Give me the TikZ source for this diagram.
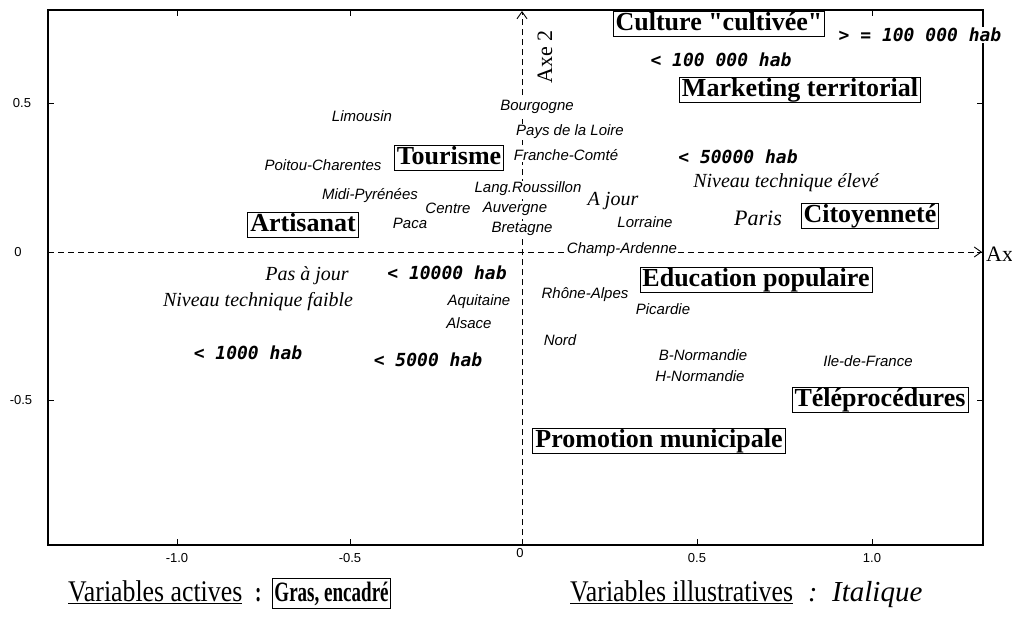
\documentclass[tikz,border=0pt]{standalone}
\usepackage{fontspec}
\setmainfont{Liberation Serif}
\newfontfamily\boxfam{Liberation Serif}[Ligatures=TeXOff]
\newfontfamily\sansf{Liberation Sans}
\newfontfamily\monof{DejaVu Sans Mono}
\newfontfamily\legf[FakeStretch=0.86]{Liberation Serif}
\newfontfamily\legbf[FakeStretch=0.68]{Liberation Serif}
\usetikzlibrary{arrows.meta}
\tikzset{
  active/.style={draw, fill=white, line width=0.9pt, inner xsep=2.5pt, inner ysep=1pt,
    text height=18pt, text depth=5.5pt, font=\boxfam\fontsize{26}{26}\selectfont\bfseries},
  region/.style={fill=white, inner sep=1pt, font=\sansf\itshape\fontsize{15}{15}\selectfont},
  hab/.style={fill=white, inner sep=1pt, font=\monof\bfseries\itshape\fontsize{18}{18}\selectfont},
  hand/.style={fill=white, inner sep=1pt, font=\itshape\fontsize{20}{20}\selectfont},
  ticklab/.style={font=\sansf\fontsize{13}{13}\selectfont, inner sep=0pt},
  axisline/.style={dash pattern=on 6pt off 4pt, line width=0.8pt},
  frameline/.style={line width=1.2pt},
  ticktick/.style={line width=1pt},
  tipbarb/.style={-{Straight Barb[length=7pt,width=10pt,line width=0.9pt]}},
}
\begin{document}
\begin{tikzpicture}[x=1pt,y=-1pt]
\useasboundingbox (0,0) rectangle (1012,621);
\fill[white] (0,0) rectangle (1012,621);
% frame
\draw[frameline] (48,10) rectangle (983,545);
% ticks
\foreach \xx in {177,350,697,872}{
  \draw[ticktick] (\xx,545) -- (\xx,539);
  \draw[ticktick] (\xx,10) -- (\xx,16);
}
\foreach \yy in {103,252,400}{
  \draw[ticktick] (48,\yy) -- (54,\yy);
  \draw[ticktick] (983,\yy) -- (977,\yy);
}
% tick labels
\node[ticklab] (tx1) at (177,558) {-1.0};
\node[ticklab] (tx2) at (350,558) {-0.5};
\node[ticklab] (tx3) at (520,553) {0};
\node[ticklab] (tx4) at (697,558) {0.5};
\node[ticklab] (tx5) at (872,558) {1.0};
\node[ticklab] (ty1) at (22,103) {0.5};
\node[ticklab] (ty2) at (18,252) {0};
\node[ticklab] (ty3) at (21,400) {-0.5};
% axes
\coordinate (xl) at (48,252);
\coordinate (xr) at (982,252);
\coordinate (yb) at (522,545);
\coordinate (yt) at (522,11);
\draw[axisline, tipbarb] (xl) -- (xr);
\draw[axisline, tipbarb] (yb) -- (yt);
\node[font=\fontsize{22}{22}\selectfont, anchor=west, inner sep=0pt] (ax1) at (986,254) {Ax};
\node[font=\fontsize{22}{22}\selectfont, rotate=90, inner sep=0pt] (ax2) at (545,57) {Axe 2};
% illustrative labels
\node[region] (bourg) at (537,107) {Bourgogne};
\node[region] (limo) at (362,116) {Limousin};
\node[region] (pays) at (570,132) {Pays de la Loire};
\node[region] (franche) at (566,155) {Franche-Comté};
\node[region] (poitou) at (323,165) {Poitou-Charentes};
\node[region] (lang) at (528,189) {Lang.Roussillon};
\node[region] (midi) at (370,196) {Midi-Pyrénées};
\node[region] (centre) at (448,208) {Centre};
\node[region] (auv) at (515,209) {Auvergne};
\node[region] (paca) at (410,223) {Paca};
\node[region] (lorr) at (645,222) {Lorraine};
\node[region] (bret) at (522,229) {Bretagne};
\node[region] (champ) at (622,250) {Champ-Ardenne};
\node[region] (rhone) at (585,295) {Rhône-Alpes};
\node[region] (aquit) at (479,302) {Aquitaine};
\node[region] (pic) at (663,309) {Picardie};
\node[region] (alsace) at (469,323) {Alsace};
\node[region] (nord) at (560,340) {Nord};
\node[region] (bnorm) at (703,355) {B-Normandie};
\node[region] (idf) at (868,361) {Ile-de-France};
\node[region] (hnorm) at (700,376) {H-Normandie};
% hand-style labels
\node[hand] (nivhaut) at (786,183) {Niveau technique élevé};
\node[hand] (ajour) at (613,201) {A jour};
\node[hand, font=\itshape\fontsize{22}{22}\selectfont] (paris) at (758,218) {Paris};
\node[hand] (pasajour) at (307,276) {Pas à jour};
\node[hand] (nivbas) at (258,302) {Niveau technique faible};
% population labels
\node[hab] (h100p) at (920,35) {> = 100 000 hab};
\node[hab] (h100) at (721,60) {< 100 000 hab};
\node[hab] (h50) at (738,157) {< 50000 hab};
\node[hab] (h10) at (447,273) {< 10000 hab};
\node[hab] (h1) at (248,353) {< 1000 hab};
\node[hab] (h5) at (428,360) {< 5000 hab};
% active variables
\node[active] (cult) at (719,24) {Culture "cultivée"};
\node[active] (mkt) at (800,90) {Marketing territorial};
\node[active] (tour) at (449,158) {Tourisme};
\node[active] (cit) at (870,216) {Citoyenneté};
\node[active] (art) at (303,225) {Artisanat};
\node[active] (edu) at (756,280) {Education populaire};
\node[active] (tele) at (880,400) {Téléprocédures};
\node[active] (promo) at (659,441) {Promotion municipale};
% legend
\node[anchor=base west, inner sep=0pt, font=\legf\fontsize{30}{30}\selectfont] (va) at (68,601) {\underline{Variables actives}};
\node[anchor=base west, inner sep=0pt, font=\legbf\bfseries\fontsize{28}{28}\selectfont] (c1) at (255,601) {:};
\node[anchor=base west, draw, line width=0.9pt, inner xsep=2pt, inner ysep=3pt, font=\legbf\bfseries\fontsize{28}{28}\selectfont] (gras) at (272,601) {Gras, encadré};
\node[anchor=base west, inner sep=0pt, font=\legf\fontsize{30}{30}\selectfont] (vi) at (570,601) {\underline{Variables illustratives}};
\node[anchor=base west, inner sep=0pt, font=\itshape\fontsize{28}{28}\selectfont] (itc) at (808,601) {:};
\node[anchor=base west, inner sep=0pt, font=\itshape\fontsize{29}{29}\selectfont] (itl) at (832,601) {Italique};
\end{tikzpicture}
\end{document}
